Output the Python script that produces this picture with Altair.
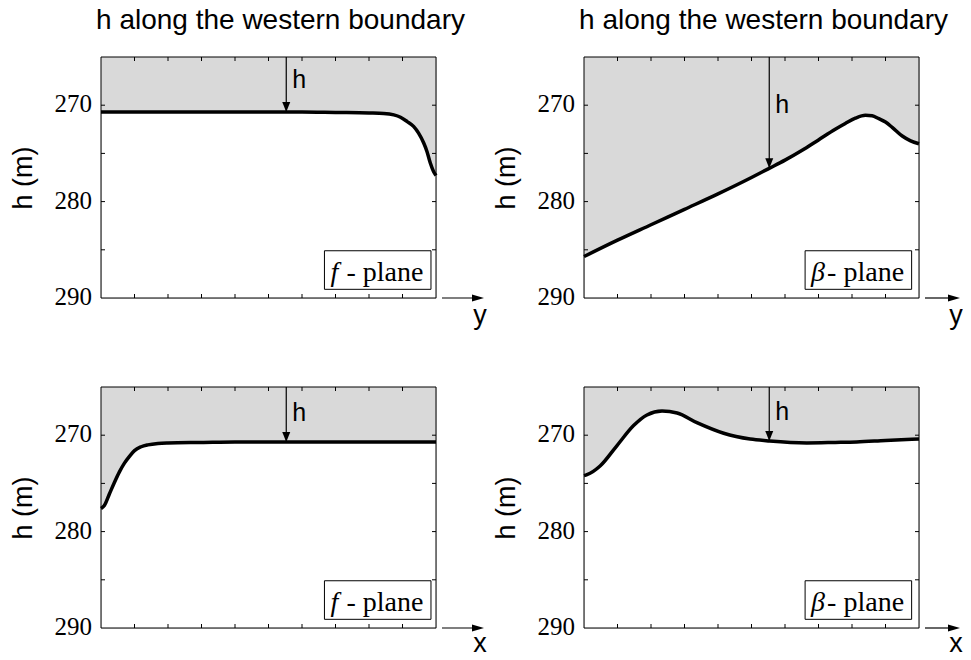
import altair as alt
import numpy as np
import pandas as pd

# ---- data (position along boundary 0..1, h in m) ----
pos_fplane_y = [0.0, 0.1, 0.2, 0.3, 0.4, 0.5, 0.6, 0.7, 0.8, 0.844, 0.874, 0.894,
                0.914, 0.933, 0.948, 0.963, 0.973, 0.983, 0.993, 1.0]
h_fplane_y = [270.7, 270.7, 270.7, 270.7, 270.7, 270.7, 270.7, 270.75, 270.8, 270.85,
              271.0, 271.25, 271.7, 272.2, 272.9, 273.9, 274.8, 276.0, 276.9, 277.3]

pos_beta_y = [0.0, 0.1, 0.2, 0.3, 0.4, 0.5, 0.55, 0.6, 0.65, 0.7, 0.75, 0.78, 0.81,
              0.84, 0.86, 0.88, 0.9, 0.92, 0.95, 0.975, 1.0]
h_beta_y = [285.7, 284.0, 282.4, 280.8, 279.2, 277.5, 276.6, 275.7, 274.7, 273.6,
            272.5, 271.9, 271.35, 271.05, 271.1, 271.4, 271.75, 272.3, 273.2, 273.7, 274.0]

pos_fplane_x = [0.0, 0.01, 0.025, 0.04, 0.055, 0.07, 0.085, 0.1, 0.12, 0.14, 0.17,
                0.2, 0.3, 0.4, 0.5, 0.6, 0.7, 0.8, 0.9, 1.0]
h_fplane_x = [277.6, 277.3, 276.1, 274.9, 273.8, 272.9, 272.2, 271.6, 271.2, 271.0,
              270.85, 270.8, 270.75, 270.7, 270.7, 270.7, 270.7, 270.7, 270.7, 270.7]

pos_beta_x = [0.0, 0.009, 0.048, 0.098, 0.148, 0.188, 0.233, 0.278, 0.337, 0.417,
              0.496, 0.554, 0.665, 0.75, 0.814, 0.9, 1.0]
h_beta_x = [274.2, 274.1, 273.2, 271.1, 269.0, 267.9, 267.5, 267.7, 268.7, 269.8,
            270.4, 270.6, 270.8, 270.75, 270.7, 270.55, 270.4]

x_ticks = [0.1, 0.2, 0.3, 0.4, 0.5, 0.6, 0.7, 0.8, 0.9]
y_ticks = [270, 275, 280, 285]
y_labels = [270, 280, 290]
y_domain = [265, 290]

TITLE = "h along the western boundary"
W, H = 335, 241
SANS = "Liberation Sans"
SERIF = "Liberation Serif"
ARROW_X = 0.553

xs = alt.Scale(domain=[0, 1], nice=False, zero=False)
ys = alt.Scale(domain=y_domain, reverse=True, nice=False, zero=False)
one = pd.DataFrame({"d": [0]})

Y_AXIS = alt.Axis(
    values=y_labels, title="h (m)", titleFont=SANS, titleFontSize=27,
    titleFontWeight="normal", titleColor="black", titlePadding=64,
    labels=False, ticks=False, tickSize=0, domain=False, grid=False)


def Yf(field):
    return alt.Y(field, scale=ys, axis=Y_AXIS, title="h (m)")


def Xf(field):
    return alt.X(field, scale=xs, axis=None)


def panel(pos, h, sym, letter, letter_dx, letter_dy, box_x1, box_x2, h_label_y,
          title=None):
    df = pd.DataFrame({"pos": pos, "h": h, "top": y_domain[0]})
    h_arrow = float(np.interp(ARROW_X, pos, h))
    ann = pd.DataFrame({"ax": [ARROW_X], "y0": [y_domain[0]], "y1": [h_arrow],
                        "ly": [h_label_y], "bx1": [box_x1], "bx2": [box_x2],
                        "by1": [285.1], "by2": [289.1], "ty": [288.2]})
    base = alt.Chart(df)
    area = base.mark_area(color="#d9d9d9", interpolate="monotone").encode(
        x=Xf("pos:Q"), y=Yf("h:Q"), y2="top:Q")
    line = base.mark_line(color="black", strokeWidth=3.5, interpolate="monotone").encode(
        x=Xf("pos:Q"), y=Yf("h:Q"))

    tx = alt.Chart(pd.DataFrame({"v": x_ticks}))
    ty = alt.Chart(pd.DataFrame({"v": y_ticks}))
    tick_style = dict(color="black", strokeWidth=1)
    t_top = tx.mark_rule(**tick_style).encode(
        x=Xf("v:Q"), y=alt.value(0), y2=alt.value(4))
    t_bot = tx.mark_rule(**tick_style).encode(
        x=Xf("v:Q"), y=alt.value(H), y2=alt.value(H - 4))
    t_left = ty.mark_rule(**tick_style).encode(
        y=Yf("v:Q"), x=alt.value(0), x2=alt.value(4))
    t_right = ty.mark_rule(**tick_style).encode(
        y=Yf("v:Q"), x=alt.value(W), x2=alt.value(W - 4))
    ylab = alt.Chart(pd.DataFrame({"v": y_labels})).mark_text(
        font=SERIF, fontSize=25, align="right", baseline="middle", dy=-1,
        color="black").encode(
        y=Yf("v:Q"), x=alt.value(-9), text=alt.Text("v:Q", format="d"))

    a = alt.Chart(ann)
    shaft = a.mark_rule(color="black", strokeWidth=1.2).encode(
        x=Xf("ax:Q"), y=Yf("y0:Q"), y2="y1:Q")
    head = a.mark_point(shape="M-1,-2.5L0,0L1,-2.5Z", filled=True, size=64,
                        color="black", opacity=1, strokeWidth=0).encode(
        x=Xf("ax:Q"), y=Yf("y1:Q"))
    hlab = a.mark_text(text="h", font=SANS, fontSize=25, align="left",
                       baseline="alphabetic", dx=6, color="black").encode(
        x=Xf("ax:Q"), y=Yf("ly:Q"))
    box = a.mark_rect(fill="white", stroke="black", strokeWidth=1).encode(
        x=Xf("bx1:Q"), x2="bx2:Q", y=Yf("by1:Q"), y2="by2:Q")
    symt = a.mark_text(text=sym, font=SERIF, fontStyle="italic", fontSize=28,
                       align="left", baseline="alphabetic", dx=6, color="black").encode(
        x=Xf("bx1:Q"), y=Yf("ty:Q"))
    plane = a.mark_text(text="- plane", font=SERIF, fontSize=28,
                        align="left", baseline="alphabetic", dx=22, color="black").encode(
        x=Xf("bx1:Q"), y=Yf("ty:Q"))

    frame = alt.Chart(one).mark_rect(filled=False, stroke="black", strokeWidth=1).encode(
        x=alt.value(0), x2=alt.value(W), y=alt.value(0), y2=alt.value(H))
    ax_line = alt.Chart(one).mark_rule(color="black", strokeWidth=1.2).encode(
        x=alt.value(W + 6), x2=alt.value(W + letter_dx), y=alt.value(H))
    ax_head = alt.Chart(one).mark_point(shape="M0,0L-3,-0.9L-3,0.9Z", filled=True,
                                        size=64, color="black", opacity=1,
                                        strokeWidth=0).encode(
        x=alt.value(W + letter_dx + 4), y=alt.value(H))
    ax_lab = alt.Chart(one).mark_text(text=letter, font=SANS, fontSize=27,
                                      align="center", baseline="alphabetic",
                                      color="black").encode(
        x=alt.value(W + letter_dx), y=alt.value(H + letter_dy))

    layer = alt.layer(area, line, t_top, t_bot, t_left, t_right, ylab, frame, shaft,
                      head, hlab, box, symt, plane, ax_line, ax_head, ax_lab)
    props = dict(width=W, height=H)
    if title:
        props["title"] = alt.TitleParams(text=title, font=SANS, fontSize=28,
                                         fontWeight="normal", color="black",
                                         dx=12, offset=21, anchor="middle")
    return layer.properties(**props)


p1 = panel(pos_fplane_y, h_fplane_y, "f", "y", 44, 26, 0.667, 0.985, 268.2, TITLE)
p2 = panel(pos_beta_y, h_beta_y, "β", "y", 37, 26, 0.66, 0.978, 270.8, TITLE)
p3 = panel(pos_fplane_x, h_fplane_x, "f", "x", 44, 24, 0.667, 0.985, 268.5)
p4 = panel(pos_beta_x, h_beta_x, "β", "x", 37, 24, 0.66, 0.978, 268.4)

chart = alt.concat(p1, p2, p3, p4, columns=2,
                   spacing={"row": 89, "column": 148}, bounds="flush").properties(
    padding={"left": 0, "top": -2, "right": -1, "bottom": -6}
).configure_view(stroke=None).configure(background="white")

chart.save("out.html", embed_options={"renderer": "svg", "actions": False})
